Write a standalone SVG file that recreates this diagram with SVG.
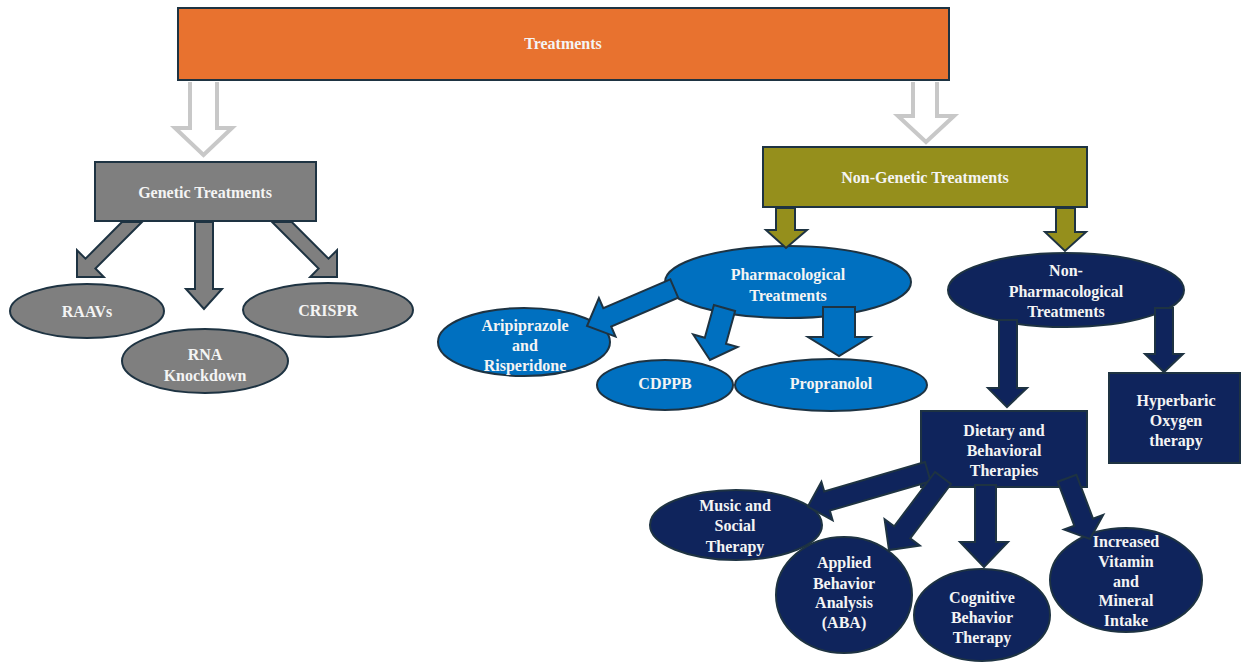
<svg xmlns="http://www.w3.org/2000/svg" width="1241" height="662" viewBox="0 0 1241 662">
<style>
.t{font-family:"Liberation Serif","Times New Roman",serif;font-weight:bold;font-size:16px;fill:#F4F4F4;text-anchor:middle}
.ln{stroke:#1E3342;stroke-width:2}
.or{fill:#E8722F}
.gr{fill:#7F7F7F}
.ol{fill:#958F1C}
.bl{fill:#0070C0}
.nv{fill:#0F245C}
.hol{fill:none;stroke:#C8C8C8;stroke-width:4;stroke-linejoin:miter}
</style>
<rect width="1241" height="662" fill="#FFFFFF"/>

<g id="treatments">
<rect class="or ln" x="178" y="8" width="771" height="72"/>
<text class="t" x="563" y="48.5">Treatments</text>
</g>

<g id="genetic">
<rect class="gr ln" x="95" y="162" width="221" height="59"/>
<text class="t" x="205" y="197.5">Genetic Treatments</text>
</g>

<g id="raavs">
<ellipse class="gr ln" cx="87" cy="311" rx="77" ry="27"/>
<text class="t" x="87" y="316.5">RAAVs</text>
</g>

<g id="crispr">
<ellipse class="gr ln" cx="328" cy="310" rx="85" ry="27"/>
<text class="t" x="328" y="315.5">CRISPR</text>
</g>

<g id="rna">
<ellipse class="gr ln" cx="205" cy="361" rx="83" ry="32"/>
<text class="t" x="205" y="359.5">RNA</text>
<text class="t" x="205" y="380.5">Knockdown</text>
</g>

<g id="nongenetic">
<rect class="ol ln" x="763" y="147" width="324" height="60"/>
<text class="t" x="925" y="182.5">Non-Genetic Treatments</text>
</g>

<g id="pharma">
<ellipse class="bl ln" cx="788" cy="282" rx="123" ry="36"/>
<text class="t" x="788" y="279.5">Pharmacological</text>
<text class="t" x="788" y="300.5">Treatments</text>
</g>

<g id="aripiprazole">
<ellipse class="bl ln" cx="524" cy="342" rx="86" ry="34"/>
<text class="t" x="525" y="330.5">Aripiprazole</text>
<text class="t" x="525" y="350.5">and</text>
<text class="t" x="525" y="370.5">Risperidone</text>
</g>

<g id="cdppb">
<ellipse class="bl ln" cx="665" cy="385" rx="68" ry="25"/>
<text class="t" x="665" y="388.5">CDPPB</text>
</g>

<g id="propranolol">
<ellipse class="bl ln" cx="831" cy="385" rx="96" ry="26"/>
<text class="t" x="831" y="388.5">Propranolol</text>
</g>

<g id="nonpharma">
<ellipse class="nv ln" cx="1066" cy="290" rx="118" ry="37"/>
<text class="t" x="1066" y="275.5">Non-</text>
<text class="t" x="1066" y="296.5">Pharmacological</text>
<text class="t" x="1066" y="316.5">Treatments</text>
</g>

<g id="dietary">
<rect class="nv ln" x="921" y="411" width="166" height="76"/>
<text class="t" x="1004" y="435.5">Dietary and</text>
<text class="t" x="1004" y="455.5">Behavioral</text>
<text class="t" x="1004" y="475.5">Therapies</text>
</g>

<g id="hyperbaric">
<rect class="nv ln" x="1109" y="373" width="131" height="90"/>
<text class="t" x="1176" y="405.5">Hyperbaric</text>
<text class="t" x="1176" y="425.5">Oxygen</text>
<text class="t" x="1176" y="445.5">therapy</text>
</g>

<g id="music">
<ellipse class="nv ln" cx="736" cy="525" rx="86" ry="35"/>
<text class="t" x="735" y="510.5">Music and</text>
<text class="t" x="735" y="530.5">Social</text>
<text class="t" x="735" y="551.5">Therapy</text>
</g>

<g id="aba">
<ellipse class="nv ln" cx="844" cy="595" rx="68" ry="58"/>
<text class="t" x="844" y="567.5">Applied</text>
<text class="t" x="844" y="588.5">Behavior</text>
<text class="t" x="844" y="607.5">Analysis</text>
<text class="t" x="844" y="627.5">(ABA)</text>
</g>

<g id="cognitive">
<ellipse class="nv ln" cx="982" cy="615" rx="68" ry="46"/>
<text class="t" x="982" y="602.5">Cognitive</text>
<text class="t" x="982" y="622.5">Behavior</text>
<text class="t" x="982" y="642.5">Therapy</text>
</g>

<g id="vitamin">
<ellipse class="nv ln" cx="1126" cy="580" rx="76" ry="52"/>
<text class="t" x="1126" y="546.5">Increased</text>
<text class="t" x="1126" y="566.5">Vitamin</text>
<text class="t" x="1126" y="586.5">and</text>
<text class="t" x="1126" y="605.5">Mineral</text>
<text class="t" x="1126" y="625.5">Intake</text>
</g>

<g id="connectors">
<path class="hol" d="M190,82 V128 H175 L203.5,155 L232,128 H217 V82"/>
<path class="hol" d="M913,82 V116 H898 L926,142 L954,116 H937 V82"/>

<polygon class="gr ln" points="122,222 85.5,258.7 77,250.2 77,277 103.8,277 95.4,268.5 142,222"/>
<polygon class="gr ln" points="195,222 213,222 213,289 222,289 204,309 186,289 195,289"/>
<polygon class="gr ln" points="272.1,222 318.6,268.5 310.2,277 337,277 337,250.2 328.5,258.7 291.8,222"/>

<polygon class="ol ln" points="776,208 795,208 795,230 807,230 786,248 766,230 776,230"/>
<polygon class="ol ln" points="1056,208 1075,208 1075,232 1086,232 1065,251 1045,232 1056,232"/>

<polygon class="bl ln" points="670.3,279.3 603.3,308.1 598.9,298 587,326 615.5,336.6 611.2,326.5 678.2,297.7"/>
<polygon class="bl ln" points="713.9,305.1 704.8,337.8 693.2,334.5 710,360 737.6,346.9 726,343.7 735.1,311"/>
<polygon class="bl ln" points="823,307 855,307 855,337 870,337 839,356 808,337 823,337"/>

<polygon class="nv ln" points="999,320 1017,320 1017,388 1027,388 1007,407 988,388 999,388"/>
<polygon class="nv ln" points="1155,308 1173,308 1173,354 1183,354 1164,372 1145,354 1155,354"/>

<polygon class="nv ln" points="925,462 824.2,491.4 821.4,481.8 807.8,506.6 832.6,520.2 829.8,510.6 930.6,481.2"/>
<polygon class="nv ln" points="935,472 894.2,526.4 884.6,519.2 889,550 919.8,545.6 910.2,538.4 951,484"/>
<polygon class="nv ln" points="975,485 996,485 996,542 1008,542 984,567 960,542 975,542"/>
<polygon class="nv ln" points="1057.7,481.7 1074.3,525.7 1064,529.6 1090,539 1103.2,514.8 1093,518.7 1076.4,474.7"/>
</g>
</svg>
